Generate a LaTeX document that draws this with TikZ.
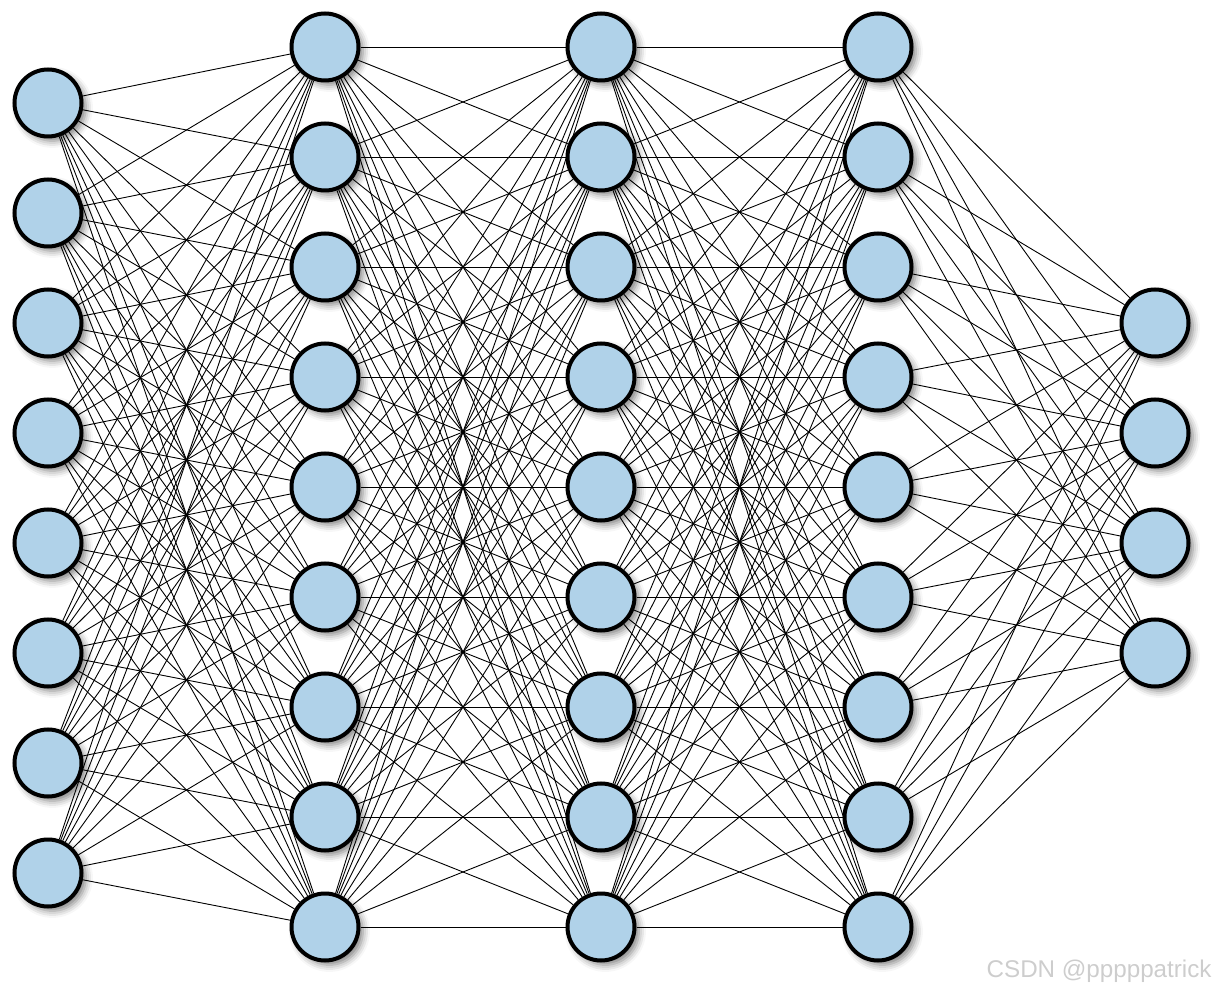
\documentclass[tikz,border=0pt]{standalone}
\usepackage{fontspec}
\setsansfont{Liberation Sans}
\usetikzlibrary{shadows.blur}
\definecolor{nodefill}{RGB}{176,210,233}
\definecolor{wmark}{RGB}{205,205,205}
\tikzset{
  neuron/.style={circle,draw=black,line width=2pt,fill=nodefill,minimum size=33.5pt,inner sep=0pt,
    blur shadow={shadow xshift=2.2pt,shadow yshift=-2.2pt,shadow blur radius=3.5pt,shadow opacity=50}},
  link/.style={line width=0.45pt,black}
}
\begin{document}
\begin{tikzpicture}[x=0.5pt,y=-0.5pt]
\useasboundingbox (0,0) rectangle (1216,989);
% layer 1 (8 nodes)
\foreach \i in {1,...,8} \node[neuron] (A\i) at (48,{103+110*(\i-1)}) {};
% layers 2-4 (9 nodes)
\foreach \i in {1,...,9} {
  \node[neuron] (B\i) at (325,{47+110*(\i-1)}) {};
  \node[neuron] (C\i) at (601,{47+110*(\i-1)}) {};
  \node[neuron] (D\i) at (878,{47+110*(\i-1)}) {};
}
% layer 5 (4 nodes)
\foreach \i in {1,...,4} \node[neuron] (E\i) at (1155,{323+110*(\i-1)}) {};
% connections
\foreach \i in {1,...,8} \foreach \j in {1,...,9} \draw[link] (A\i) -- (B\j);
\foreach \i in {1,...,9} \foreach \j in {1,...,9} {
  \draw[link] (B\i) -- (C\j);
  \draw[link] (C\i) -- (D\j);
}
\foreach \i in {1,...,9} \foreach \j in {1,...,4} \draw[link] (D\i) -- (E\j);
% watermark
\node[text=wmark,font=\sffamily\fontsize{12.1pt}{14pt}\selectfont,anchor=base east,inner sep=0pt] (wm) at (1212,977) {CSDN @pppppatrick};
\end{tikzpicture}
\end{document}
